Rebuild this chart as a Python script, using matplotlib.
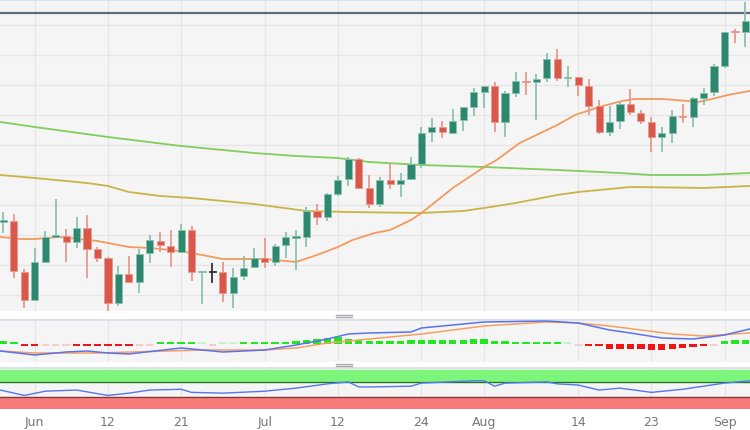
import numpy as np
import matplotlib.pyplot as plt

# daily candles, late May - early Sep (price units)
opens  = [78.5, 79, 28, 0, 38, 63, 64, 58, 72, 51, 42, -3, 26, 18, 47, 59, 54, 48, 70, 28, 28, 28, 7, 24, 33, 42, 38, 55, 62.5, 63, 89, 83, 106, 121, 141, 112, 96, 120, 116, 121, 136, 168, 173, 167, 180, 193, 208, 214, 178, 207, 219, 218, 222, 241, 222, 223, 214, 194, 168, 179, 196, 187, 178, 163, 167, 184, 183, 202, 208, 234, 269, 268]
highs  = [88, 86, 31, 52, 69, 101, 71, 83, 85, 53, 43, 34, 44, 51, 65, 68, 70, 76, 74, 29, 37, 38, 32, 44, 52, 62, 56, 68, 70, 93, 96, 107, 124, 143, 142, 125, 123, 137, 127, 143, 173, 182, 179, 191, 193, 212, 214, 218, 209, 228, 228, 226, 247, 251, 234, 223, 221, 200, 194, 198, 211, 190, 183, 173, 190, 196, 203, 212, 236, 268, 271, 298]
lows   = [67, 22, -8, 0, 37, 62, 38, 52, 22, 38, -11, -6, 17, 7, 37, 48, 33, 47, 19, -4, 17, -2, -8, 20, 32, 32, 34, 42, 30, 53, 75, 79, 104, 114, 111, 92, 93, 111, 103, 120, 132, 158, 162, 166, 169, 184, 192, 168, 163, 203, 205, 180, 218, 219, 213, 204, 185, 166, 164, 171, 185, 176, 148, 148, 157, 177, 173, 195, 204, 232, 257, 253]
closes = [79.5, 29, 0, 38, 63, 65, 58, 72, 51, 42, -3, 26, 18, 46, 60, 55, 48, 70, 28, 29, 28, 7, 23, 32, 42, 38, 54, 63, 63, 89, 83, 106, 120, 141, 112, 96, 120, 116, 120, 136, 167, 173, 168, 179, 193, 208, 214, 178, 207, 219, 218, 221, 241, 222, 223, 215, 194, 168, 178, 196, 188, 179, 163, 167, 184, 183, 202, 207, 234, 268, 268, 279]

# moving averages, sampled at candle indices
ma_fast_x = [-0.3, 1.6, 3, 5.4, 9, 10, 12, 14, 16, 17.4, 19, 21, 25, 28, 30, 32, 33.4, 35.5, 37, 39, 40, 43, 46, 47.2, 49.4, 53, 54.7, 57, 59.2, 60.4, 63, 65.5, 66.5, 67.8, 69.3, 71.4]
ma_fast   = [63, 61, 61, 63, 59, 57, 53, 52, 50, 48, 45, 41, 41, 38, 45, 53, 60, 67, 70, 80, 87, 112, 133, 140, 157, 175, 185, 193, 199, 201, 201, 199, 198, 201, 205, 209]
ma_mid_x  = [-0.3, 3, 10, 17, 24, 28, 32, 35, 40, 46, 53, 55, 59, 62, 67, 71.4]
ma_mid    = [178, 173, 163, 154, 147, 144, 142, 138, 135, 133, 130, 129, 127, 125, 125, 127]
ma_slow_x = [-0.3, 3, 8, 10, 12, 15, 18, 24, 29, 33, 40, 44, 46, 49, 53, 55, 58, 60, 64, 67, 71.4]
ma_slow   = [125, 122, 117, 114, 108, 104, 102, 96, 89, 88, 87, 89, 92, 97, 105, 108, 111, 113, 112.5, 112, 114]
resistance = 287

# MACD panel
macd_x   = [-0.3, 3, 6, 8, 10, 12, 17, 21, 25, 28, 31, 33, 35, 39, 40, 43, 46, 52, 55, 58, 60, 63, 66, 69, 71.4]
macd     = [-7, -11, -8, -7, -9, -10, -4, -8, -6, -1, 5, 10, 11, 12, 16, 19, 22, 23, 21, 14, 11, 6, 5, 9, 15]
signal_x = [-0.3, 3, 9, 19, 25, 28, 31, 35, 40, 46, 52, 55, 58, 61, 64, 67, 71.4]
signal   = [-7, -9, -9, -6, -6, -4, 1, 5, 10, 18, 22, 21, 18, 14, 10, 8, 11]
hist = [3, 1.2, -1.5, -1.5, -0.5, -0.5, -0.5, -1.5, -1.5, -1.5, -1.5, -1.5, -1.5, -0.5, -0.5, 1.2, 1.2, 2, 1.2, 0.5, -0.5, 0.5, 0.5, 1.2, 1.2, 1.2, 1.2, 2, 3.3, 4.3, 5, 6, 6.7, 5.3, 4.3, 3.3, 3.3, 2.7, 2.7, 4.3, 4.3, 4.3, 4.3, 4.3, 4.3, 5, 5, 2.7, 2.7, 2, 2, 2, 1.5, 1.3, 0.5, -0.5, -1.5, -2, -4.7, -4.7, -5, -5, -6, -6, -5, -4, -2.5, -1.5, -0.5, 2.7, 4.3, 4.3]

# RSI panel
rsi_x = [-0.3, 2, 4, 7, 10, 12, 14, 17, 18, 21, 25, 28, 31, 33, 34, 35, 39, 40, 45, 46, 47, 48, 52, 53, 55, 57, 59, 62, 65, 69, 71.4]
rsi   = [49, 35, 46, 49, 35, 41, 49, 51, 43, 41, 46, 54, 65, 70, 57, 57, 59, 67, 73, 73, 59, 67, 70, 65, 62, 49, 54, 43, 51, 67, 73]

tick_pos = [3, 10, 17, 25, 32, 40, 46, 55, 62, 69]
tick_lab = ['Jun', '12', '21', 'Jul', '12', '24', 'Aug', '14', '23', 'Sep']

UP, DOWN = '#2e8870', '#d9584a'
UP_W, DOWN_W = '#8cc2b0', '#e79a90'
BG, GRID, BORDER = '#f5f5f5', '#e6e6e6', '#dce2ea'

fig = plt.figure(figsize=(7.5, 4.3), dpi=100)
fig.patch.set_facecolor('white')
ax = fig.add_axes([0, 1 - 311 / 430, 1, 311 / 430], facecolor=BG)
ax_m = fig.add_axes([0, 1 - 362 / 430, 1, 42 / 430], facecolor=BG)
ax_r = fig.add_axes([0, 1 - 409 / 430, 1, 41 / 430], facecolor=BG)

xlim = (-0.33, 71.44)
n = len(opens)
idx = np.arange(n)
o, h, l, c = map(np.array, (opens, highs, lows, closes))

for a in (ax, ax_m, ax_r):
    a.set_xlim(*xlim)
    for s in ('left', 'right', 'bottom'):
        a.spines[s].set_visible(False)
    a.spines['top'].set_color(BORDER)
    a.spines['top'].set_linewidth(1.5)
    a.set_xticks(tick_pos)
    a.grid(axis='x', color=GRID, lw=1)
    a.set_axisbelow(True)
    a.tick_params(length=0, labelleft=False, labelbottom=False)

# main panel
ax.set_ylim(-11, 300)
ax.set_yticks(np.arange(5, 300, 30))
ax.grid(axis='y', color=GRID, lw=1)
ax.axhline(resistance, color='#5c6d80', lw=1.6, zorder=2)

ax.plot(ma_slow_x, ma_slow, color='#c9b446', lw=1.3, zorder=3)
ax.plot(ma_mid_x, ma_mid, color='#84cc5c', lw=1.3, zorder=3)
ax.plot(ma_fast_x, ma_fast, color='#f39a5c', lw=1.3, zorder=3)

up = c > o
down = c < o
wick_col = np.where(up, UP_W, np.where(down, DOWN_W, '#333333'))
ax.vlines(idx, l, h, colors=wick_col, lw=1.3, zorder=4)
body_h = np.maximum(np.abs(c - o), 1.2)
body_col = np.where(up, UP, np.where(down, DOWN, '#333333'))
ax.bar(idx, body_h, bottom=np.minimum(o, c), width=0.68, color=body_col,
       edgecolor=wick_col, linewidth=0.6, zorder=5)

# MACD panel
ax_m.set_ylim(-18, 24)
hv = np.array(hist)
hcol = []
for v in hv:
    if abs(v) < 1:
        hcol.append('#c8f3c8' if v > 0 else '#f6cccc')
    else:
        hcol.append('#1fe81f' if v > 0 else '#f01414')
hh = np.maximum(np.abs(hv), 2)
ax_m.bar(idx, np.where(hv > 0, hh, -hh), bottom=0, width=0.7, color=hcol, zorder=2)
ax_m.plot(signal_x, signal, color='#f5a060', lw=1.1, zorder=3)
ax_m.plot(macd_x, macd, color='#5b72ee', lw=1.1, zorder=4)

# RSI panel
ax_r.set_ylim(0, 106)
ax_r.axhspan(70, 100, color='#7df57a', zorder=1)
ax_r.axhspan(0, 30, color='#f77b7b', zorder=1)
ax_r.axhline(70, color='#2d6b2d', lw=0.9, zorder=2)
ax_r.axhline(30, color='#7a3b3b', lw=0.9, zorder=2)
ax_r.plot(rsi_x, rsi, color='#5577ee', lw=1.0, zorder=3)
ax_r.tick_params(labelbottom=True, pad=5, labelsize=9, labelcolor='#777777')
ax_r.set_xticklabels(tick_lab)

# drag handles between panels
for yy in (316, 365):
    for dy in (-1.2, 1.2):
        fig.add_artist(plt.Line2D([336 / 750, 352 / 750], [1 - (yy + dy) / 430] * 2,
                                  color='#aaaaaa', lw=1.0))

fig.savefig('out.png', dpi=100, facecolor='white')
